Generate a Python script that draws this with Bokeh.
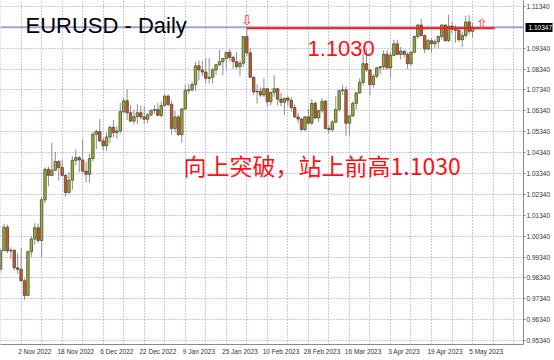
import pandas as pd
from bokeh.plotting import figure
from bokeh.models import (FixedTicker, Label, PrintfTickFormatter, ColumnDataSource,
                          Span, LinearAxis)
from bokeh.core.properties import value
from bokeh.embed import file_html
from bokeh.resources import INLINE

# ---- daily EURUSD bars (one per weekday) ----
first_day = "2022-10-25"
last_day = "2023-05-05"

opens = [
    0.9875, 0.9965, 1.0077, 0.9963, 0.9966, 0.9882, 0.9875, 0.9820, 0.9750, 0.9959,
    1.0020, 1.0074, 1.0013, 1.0208, 1.0354, 1.0325, 1.0350, 1.0392, 1.0363, 1.0325,
    1.0243, 1.0302, 1.0397, 1.0410, 1.0399, 1.0345, 1.0330, 1.0406, 1.0522, 1.0535,
    1.0490, 1.0467, 1.0509, 1.0555, 1.0530, 1.0538, 1.0630, 1.0682, 1.0625, 1.0585,
    1.0606, 1.0625, 1.0605, 1.0594, 1.0615, 1.0637, 1.0640, 1.0612, 1.0660, 1.0705,
    1.0665, 1.0550, 1.0605, 1.0520, 1.0643, 1.0732, 1.0735, 1.0760, 1.0850, 1.0830,
    1.0820, 1.0790, 1.0795, 1.0830, 1.0855, 1.0870, 1.0885, 1.0915, 1.0890, 1.0870,
    1.0845, 1.0862, 1.0990, 1.0912, 1.0795, 1.0725, 1.0728, 1.0710, 1.0740, 1.0678,
    1.0723, 1.0740, 1.0690, 1.0675, 1.0695, 1.0685, 1.0650, 1.0605, 1.0595, 1.0545,
    1.0605, 1.0575, 1.0670, 1.0600, 1.0635, 1.0680, 1.0550, 1.0545, 1.0580, 1.0640,
    1.0730, 1.0735, 1.0575, 1.0610, 1.0670, 1.0720, 1.0770, 1.0860, 1.0830, 1.0760,
    1.0800, 1.0840, 1.0845, 1.0905, 1.0840, 1.0900, 1.0955, 1.0905, 1.0920, 1.0905,
    1.0860, 1.0915, 1.0990, 1.1045, 1.0995, 1.0930, 1.0970, 1.0955, 1.0965, 1.0990,
    1.1045, 1.0970, 1.1040, 1.1025, 1.1020, 1.0975, 1.0995, 1.1060, 1.1015,
]
highs = [
    0.9976, 1.0094, 1.0089, 0.9980, 0.9973, 0.9954, 0.9976, 0.9830, 0.9966, 1.0033,
    1.0096, 1.0094, 1.0222, 1.0364, 1.0367, 1.0481, 1.0438, 1.0397, 1.0401, 1.0330,
    1.0342, 1.0416, 1.0449, 1.0417, 1.0497, 1.0390, 1.0430, 1.0533, 1.0545, 1.0595,
    1.0505, 1.0530, 1.0565, 1.0590, 1.0560, 1.0673, 1.0695, 1.0736, 1.0660, 1.0640,
    1.0666, 1.0658, 1.0657, 1.0624, 1.0638, 1.0661, 1.0673, 1.0679, 1.0713, 1.0712,
    1.0683, 1.0635, 1.0615, 1.0650, 1.0760, 1.0764, 1.0774, 1.0868, 1.0875, 1.0874,
    1.0887, 1.0887, 1.0840, 1.0860, 1.0927, 1.0885, 1.0915, 1.0930, 1.0898, 1.0915,
    1.0875, 1.0992, 1.1033, 1.0935, 1.0800, 1.0760, 1.0747, 1.0790, 1.0745, 1.0725,
    1.0805, 1.0745, 1.0720, 1.0695, 1.0705, 1.0700, 1.0665, 1.0625, 1.0600, 1.0610,
    1.0645, 1.0690, 1.0680, 1.0640, 1.0695, 1.0685, 1.0565, 1.0590, 1.0705, 1.0735,
    1.0760, 1.0750, 1.0615, 1.0680, 1.0725, 1.0790, 1.0910, 1.0930, 1.0835, 1.0810,
    1.0845, 1.0850, 1.0925, 1.0925, 1.0915, 1.0975, 1.0975, 1.0940, 1.0925, 1.0915,
    1.0920, 1.0995, 1.1050, 1.1075, 1.1000, 1.0980, 1.0980, 1.0975, 1.0995, 1.1050,
    1.1050, 1.1095, 1.1060, 1.1045, 1.1030, 1.1015, 1.1090, 1.1092, 1.1055,
]
lows = [
    0.9860, 0.9962, 0.9953, 0.9925, 0.9870, 0.9852, 0.9818, 0.9729, 0.9747, 0.9935,
    0.9993, 1.0000, 0.9935, 1.0191, 1.0272, 1.0320, 1.0345, 1.0300, 1.0320, 1.0223,
    1.0239, 1.0256, 1.0373, 1.0340, 1.0340, 1.0290, 1.0290, 1.0392, 1.0450, 1.0485,
    1.0443, 1.0443, 1.0480, 1.0505, 1.0500, 1.0525, 1.0620, 1.0590, 1.0580, 1.0570,
    1.0570, 1.0592, 1.0573, 1.0576, 1.0608, 1.0620, 1.0612, 1.0602, 1.0656, 1.0655,
    1.0519, 1.0530, 1.0515, 1.0482, 1.0640, 1.0713, 1.0725, 1.0730, 1.0780, 1.0800,
    1.0765, 1.0765, 1.0765, 1.0805, 1.0850, 1.0805, 1.0835, 1.0870, 1.0835, 1.0835,
    1.0800, 1.0845, 1.0895, 1.0795, 1.0710, 1.0668, 1.0700, 1.0700, 1.0655, 1.0660,
    1.0700, 1.0660, 1.0655, 1.0613, 1.0660, 1.0630, 1.0600, 1.0575, 1.0535, 1.0535,
    1.0570, 1.0565, 1.0595, 1.0580, 1.0625, 1.0545, 1.0525, 1.0535, 1.0575, 1.0630,
    1.0710, 1.0515, 1.0515, 1.0605, 1.0640, 1.0715, 1.0755, 1.0820, 1.0710, 1.0745,
    1.0790, 1.0810, 1.0830, 1.0830, 1.0790, 1.0895, 1.0900, 1.0880, 1.0890, 1.0835,
    1.0850, 1.0910, 1.0980, 1.0990, 1.0910, 1.0925, 1.0915, 1.0935, 1.0935, 1.0975,
    1.0965, 1.0965, 1.1005, 1.0960, 1.0965, 1.0940, 1.0985, 1.1000, 1.0985,
]
closes = [
    0.9965, 1.0077, 0.9963, 0.9966, 0.9882, 0.9875, 0.9820, 0.9750, 0.9959, 1.0020,
    1.0074, 1.0013, 1.0208, 1.0354, 1.0325, 1.0350, 1.0392, 1.0363, 1.0325, 1.0243,
    1.0302, 1.0397, 1.0410, 1.0399, 1.0345, 1.0330, 1.0406, 1.0522, 1.0535, 1.0490,
    1.0467, 1.0509, 1.0555, 1.0530, 1.0538, 1.0630, 1.0682, 1.0625, 1.0585, 1.0606,
    1.0625, 1.0605, 1.0594, 1.0615, 1.0637, 1.0640, 1.0612, 1.0660, 1.0705, 1.0665,
    1.0550, 1.0605, 1.0520, 1.0643, 1.0732, 1.0735, 1.0760, 1.0850, 1.0830, 1.0820,
    1.0790, 1.0795, 1.0830, 1.0855, 1.0870, 1.0885, 1.0915, 1.0890, 1.0870, 1.0845,
    1.0862, 1.0990, 1.0912, 1.0795, 1.0725, 1.0728, 1.0710, 1.0740, 1.0678, 1.0723,
    1.0740, 1.0690, 1.0675, 1.0695, 1.0685, 1.0650, 1.0605, 1.0595, 1.0545, 1.0605,
    1.0575, 1.0670, 1.0600, 1.0635, 1.0680, 1.0550, 1.0545, 1.0580, 1.0640, 1.0730,
    1.0735, 1.0575, 1.0610, 1.0670, 1.0720, 1.0770, 1.0860, 1.0830, 1.0760, 1.0800,
    1.0840, 1.0845, 1.0905, 1.0840, 1.0900, 1.0955, 1.0905, 1.0920, 1.0905, 1.0860,
    1.0915, 1.0990, 1.1045, 1.0995, 1.0930, 1.0970, 1.0955, 1.0965, 1.0990, 1.1045,
    1.0970, 1.1040, 1.1025, 1.1020, 1.0975, 1.0995, 1.1060, 1.1015, 1.10347,
]

# price levels shown on the right scale (1.10340 sits under the bid box)
axis_levels = [0.95340, 0.96340, 0.97340, 0.98340, 0.99340, 1.00340, 1.01340,
               1.02340, 1.03340, 1.04340, 1.05340, 1.06340, 1.07340, 1.08340,
               1.09340, 1.11340]
hidden_level = 1.10340

bid_price = 1.10347
prior_high = 1.1030
prior_high_day = "2023-02-02"
first_label_day = "2022-11-02"
label_step = 12
grid_step = 6

title_text = "EURUSD - Daily"
level_text = "1.1030"
note_text = "向上突破，站上前高1.1030"

# ---- derived positions ----
dates = pd.bdate_range(first_day, last_day)
n = len(dates)
xs = list(range(n))
bull_fill, bear_fill = "#9db22c", "#d5531e"
src = ColumnDataSource(dict(
    x=xs, high=highs, low=lows,
    top=[max(o, c) for o, c in zip(opens, closes)],
    bottom=[min(o, c) for o, c in zip(opens, closes)],
    fill=[bull_fill if c >= o else bear_fill for o, c in zip(opens, closes)],
))

frame_h = 344
y_lo, y_hi = 0.95149, 1.11627
p = figure(width=554, height=360,
           x_range=(-0.02, 152.9), y_range=(y_lo, y_hi),
           y_axis_location="right",
           output_backend="svg", toolbar_location=None,
           min_border_left=0, min_border_top=0,
           min_border_right=28, min_border_bottom=16,
           background_fill_color="white", border_fill_color="white")
p.outline_line_color = None

# dotted grid
grid_color = "#8484d6"
p.xgrid.ticker = FixedTicker(ticks=list(range(0, n + 18, grid_step)))
p.ygrid.ticker = FixedTicker(ticks=sorted(axis_levels + [hidden_level]))
for g in (p.xgrid, p.ygrid):
    g.grid_line_color = grid_color
    g.grid_line_dash = "1 2"
    g.grid_line_width = 1
    g.grid_line_alpha = 0.9

label_font = "Liberation Sans"
label_size = "6.5px"

# right price axis
ya = p.yaxis[0]
ya.ticker = FixedTicker(ticks=axis_levels)
ya.formatter = PrintfTickFormatter(format="%.5f")
ya.major_label_text_font = label_font
ya.major_label_text_font_size = label_size
ya.major_label_text_color = "#333333"
ya.major_label_standoff = 1
ya.major_tick_out = 2
ya.major_tick_in = 0
ya.minor_tick_out = 0
ya.minor_tick_in = 0
ya.major_tick_line_color = "#888888"
ya.axis_line_color = "#8a8a8a"

# bid price marker: a second scale whose single tick is drawn as a black box
# reaching back over the price labels, with the value written on top of it
bid_axis = LinearAxis(ticker=FixedTicker(ticks=[bid_price]),
                      formatter=PrintfTickFormatter(format="%.5f"))
bid_axis.axis_line_color = None
bid_axis.minor_tick_out = 0
bid_axis.minor_tick_in = 0
bid_axis.major_tick_out = 0
bid_axis.major_tick_in = 27
bid_axis.major_tick_line_width = 9
bid_axis.major_tick_line_color = "black"
bid_axis.major_tick_line_cap = "butt"
bid_axis.major_label_standoff = -24
bid_axis.major_label_text_font = label_font
bid_axis.major_label_text_font_size = label_size
bid_axis.major_label_text_color = "white"
p.add_layout(bid_axis, "right")

# bottom date axis: labels every 12 bars, text starting at the bar
start = dates.get_loc(pd.Timestamp(first_label_day))
label_pos = list(range(start, n, label_step))
label_ticks = [k + 4 for k in label_pos]
xa = p.xaxis[0]
xa.ticker = FixedTicker(ticks=label_ticks)
xa.major_label_overrides = {
    t: f"{dates[k].day} {dates[k].strftime('%b %Y')}" for t, k in zip(label_ticks, label_pos)
}
xa.major_label_text_font = label_font
xa.major_label_text_font_size = label_size
xa.major_label_text_color = "#333333"
xa.major_label_standoff = 3
xa.major_tick_out = 0
xa.major_tick_in = 0
xa.minor_tick_out = 0
xa.minor_tick_in = 0
xa.axis_line_color = "#8a8a8a"

# bid line
p.add_layout(Span(location=bid_price, dimension="width",
                  line_color="#a4a4d4", line_width=2, level="underlay"))

# candles
p.segment(x0="x", y0="high", x1="x", y1="low", source=src,
          line_color="#8e8e8e", line_width=1)
p.vbar(x="x", width=0.72, top="top", bottom="bottom", source=src,
       fill_color="fill", line_color="#4a4a3a", line_width=0.8)

# breakout level from the February high
hi_pos = dates.get_loc(pd.Timestamp(prior_high_day))
p.segment(x0=[hi_pos], y0=[prior_high], x1=[n - 1 + 6.5], y1=[prior_high],
          line_color="#ff1a1a", line_width=2)

# hollow arrows
p.text(x=[hi_pos], y=[highs[hi_pos]], text=["⇩"], text_align="center",
       text_baseline="alphabetic", y_offset=-8, text_color="#ff3030",
       text_font=value("DejaVu Sans"), text_font_size="14px")
p.text(x=[n - 1 + 2.7], y=[prior_high], text=["⇧"], text_align="center",
       text_baseline="alphabetic", y_offset=-4, text_color="#ff3030",
       text_font=value("DejaVu Sans"), text_font_size="14px")

# texts
p.add_layout(Label(x=25, y=frame_h - 25, x_units="screen", y_units="screen",
                   text=title_text, text_font="Liberation Sans",
                   text_font_size="22px", text_color="black",
                   text_baseline="alphabetic"))
p.add_layout(Label(x=307, y=frame_h - 48, x_units="screen", y_units="screen",
                   text=level_text, text_font="Liberation Sans",
                   text_font_size="22px", text_color="#ff1010",
                   text_baseline="alphabetic"))
p.add_layout(Label(x=183, y=frame_h - 164, x_units="screen", y_units="screen",
                   text=note_text, text_font="Noto Sans CJK SC",
                   text_font_size="23px", text_color="#ff1010",
                   text_baseline="middle"))

open("out.html", "w").write(file_html(p, INLINE))
